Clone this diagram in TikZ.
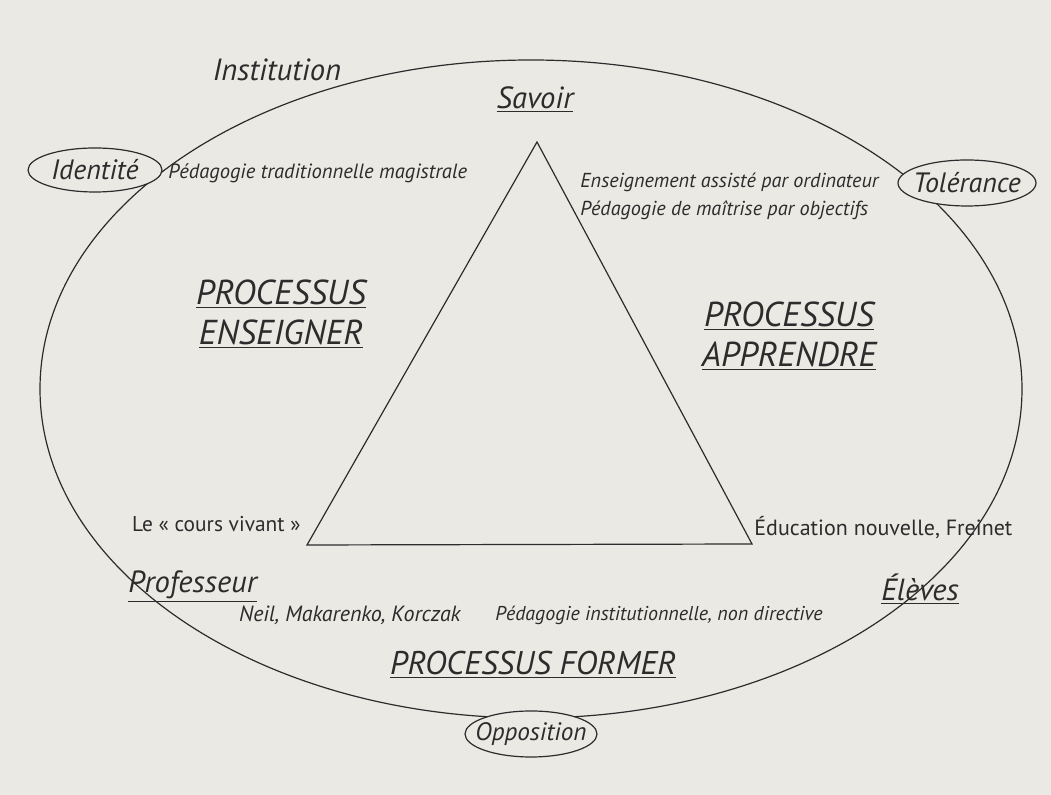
\documentclass[tikz,border=0pt]{standalone}
\usepackage{fontspec}
\setmainfont{PT Sans}
\usetikzlibrary{shapes.geometric}
\definecolor{paper}{HTML}{EBE9E4}
\definecolor{ink}{HTML}{2C2C2C}
\newcommand{\smalltxt}[1]{\fontsize{#1}{14}\selectfont\itshape}
\newcommand{\labtxt}{\fontsize{15.3}{18}\selectfont\itshape}
\newcommand{\badgetxt}[1]{\fontsize{#1}{16}\selectfont\itshape}
\newcommand{\proctxt}[1]{\fontsize{#1}{20}\selectfont\itshape}
\newcommand{\uprtxt}[1]{\fontsize{#1}{12}\selectfont}
\begin{document}
\begin{tikzpicture}[x=0.5pt,y=-0.5pt,
  every node/.style={text=ink},
  frame/.style={draw=ink, line width=0.6pt, ellipse, inner sep=0pt},
  ring/.style={draw=ink, fill=paper, line width=0.6pt},
  badge/.style={inner sep=0pt},
  edge/.style={draw=ink, line width=0.6pt, line join=miter},
  lab/.style={font=\labtxt, inner sep=0pt},
  proc/.style={inner sep=0pt, align=center}]
\fill[paper] (0,0) rectangle (1051,795);
\useasboundingbox (0,0) rectangle (1051,795);
% outer frame: institution
\node[frame, minimum width=491pt, minimum height=329pt] (inst) at (531,389) {};
% triangle
\coordinate (savoirpt) at (537,142);
\coordinate (profpt) at (307,545);
\coordinate (elevpt) at (752,544);
\draw[edge] (savoirpt) -- (profpt) -- (elevpt) -- cycle;
% badges on the frame
\coordinate (identc) at (95,170);
\coordinate (tolerc) at (967,183);
\coordinate (opposc) at (531,734);
\draw[ring] (identc) ellipse [x radius=67, y radius=22];
\draw[ring] (tolerc) ellipse [x radius=69, y radius=23];
\draw[ring] (opposc) ellipse [x radius=66, y radius=23];
\node[badge, font=\badgetxt{14}] (ident) at (identc) {Identité};
\node[badge, font=\badgetxt{14}] (toler) at (tolerc) {Tolérance};
\node[badge, font=\badgetxt{12.6}] (oppos) at (opposc) {Opposition};
% labels
\node[lab] (institution) at (277,70) {Institution};
\node[lab] (savoir) at (535,100) {\underline{Savoir}};
\node[lab, anchor=west] (prof) at (128,587) {\underline{Professeur}};
\node[lab] (eleves) at (920,589) {\underline{Élèves}};
\node[proc, font=\proctxt{17.3}] (enseigner) at (281,314) {\underline{PROCESSUS}\\\underline{ENSEIGNER}};
\node[proc, font=\proctxt{17.3}] (apprendre) at (789,336) {\underline{PROCESSUS}\\\underline{APPRENDRE}};
\node[proc, font=\proctxt{16.4}] (former) at (533,665) {\underline{PROCESSUS FORMER}};
% small texts
\node[font=\smalltxt{10.3}, inner sep=0pt, anchor=west] (tradi) at (168,173) {Pédagogie traditionnelle magistrale};
\node[font=\smalltxt{10.1}, inner sep=0pt, anchor=west, align=left] (eao) at (580,196) {Enseignement assisté par ordinateur\\Pédagogie de maîtrise par objectifs};
\node[font=\uprtxt{10.7}, inner sep=0pt, anchor=east] (vivant) at (301,524) {Le «~cours vivant~»};
\node[font=\uprtxt{11}, inner sep=0pt, anchor=west] (freinet) at (754,528) {Éducation nouvelle, Freinet};
\node[font=\smalltxt{11}, inner sep=0pt, anchor=east] (neil) at (461,615) {Neil, Makarenko, Korczak};
\node[font=\smalltxt{10}, inner sep=0pt, anchor=west] (pinst) at (495,615) {Pédagogie institutionnelle, non directive};
\end{tikzpicture}
\end{document}
